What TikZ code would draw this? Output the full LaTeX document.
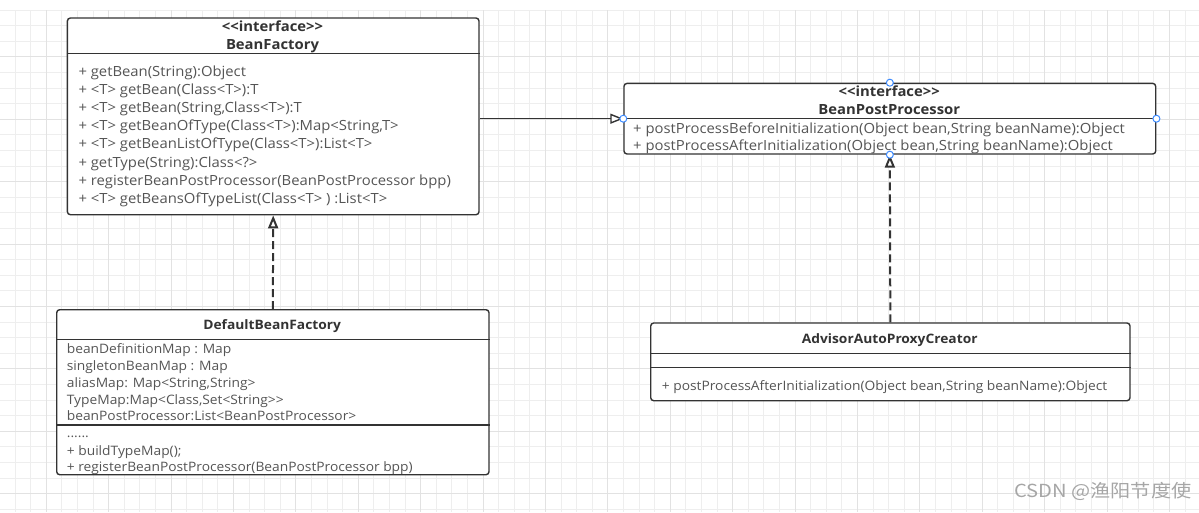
\documentclass[tikz,border=0pt]{standalone}
\usepackage{fontspec}
\setmainfont{Open Sans}[Ligatures=TeXOff, FakeStretch=1.06]
\newfontfamily\cjkfont{Noto Sans CJK SC}[FakeStretch=1.12]
\usetikzlibrary{arrows.meta}

\definecolor{boxline}{HTML}{333333}
\definecolor{titletext}{HTML}{333333}
\definecolor{membertext}{HTML}{555555}
\definecolor{gridminor}{HTML}{EEEEEE}
\definecolor{gridmajor}{HTML}{E2E2E2}
\definecolor{handleblue}{HTML}{3D8BFF}
\definecolor{marktext}{HTML}{A6A6A6}

\newcommand{\membfont}{\fontsize{14}{16}\selectfont}
\newcommand{\titlefont}{\fontsize{14}{16}\selectfont\bfseries}
\newcommand{\smallmembfont}{\fontsize{13}{15}\selectfont}
\newcommand{\smalltitlefont}{\fontsize{13}{15}\selectfont\bfseries}

\tikzset{
  umlbox/.style={draw=boxline, line width=1.4pt, rounded corners=3pt, fill=white,
    anchor=north west, inner sep=0pt},
  divider/.style={draw=boxline, line width=1.4pt},
  member/.style={anchor=base west, inner sep=0pt, text=membertext, font=\membfont},
  classname/.style={anchor=base, inner sep=0pt, text=titletext, font=\titlefont},
  smallmember/.style={member, font=\smallmembfont},
  smallclassname/.style={classname, font=\smalltitlefont},
  inherit/.style={draw=boxline, line width=1.4pt,
    -{Triangle[open, length=13pt, width=10pt, fill=white]}},
  realize/.style={inherit, line width=2pt, dash pattern=on 8pt off 4pt},
  handle/.style={circle, draw=handleblue, fill=white, line width=1pt,
    minimum size=7pt, inner sep=0pt},
}

\begin{document}
\begin{tikzpicture}[x=1pt, y=-1pt]
    \useasboundingbox (0,0) rectangle (1199,512);

    % background grid
    \foreach \k in {0,...,75} {
        \draw[gridminor, line width=1pt] ({15+15.6*\k},10) -- ({15+15.6*\k},512);
    }
    \foreach \k in {0,...,32} {
        \draw[gridminor, line width=1pt] (0,{10+15.6*\k}) -- (1199,{10+15.6*\k});
    }
    \foreach \k in {2,6,...,74} {
        \draw[gridmajor, line width=1pt] ({15+15.6*\k},10) -- ({15+15.6*\k},512);
    }
    \foreach \k in {3,7,...,31} {
        \draw[gridmajor, line width=1pt] (0,{10+15.6*\k}) -- (1199,{10+15.6*\k});
    }

    % BeanFactory
    \node[umlbox, minimum width=411.6pt, minimum height=196.7pt] (bf) at (66.7,17.3) {};
    \draw[divider] (bf.west |- 0,53.3) -- (bf.east |- 0,53.3);
    \node[classname] (bfstereo) at (272.5,31.7) {<<interface>>};
    \node[classname] (bfname) at (272.5,49.3) {BeanFactory};
    \node[member] (bfm1) at (78.3,76.0) {+ getBean(String):Object};
    \node[member] (bfm2) at (78.3,94.2) {+ <T> getBean(Class<T>):T};
    \node[member] (bfm3) at (78.3,112.4) {+ <T> getBean(String,Class<T>):T};
    \node[member] (bfm4) at (78.3,130.6) {+ <T> getBeanOfType(Class<T>):Map<String,T>};
    \node[member] (bfm5) at (78.3,148.8) {+ <T> getBeanListOfType(Class<T>):List<T>};
    \node[member] (bfm6) at (78.3,167.0) {+ getType(String):Class<?>};
    \node[member] (bfm7) at (78.3,185.2) {+ registerBeanPostProcessor(BeanPostProcessor bpp)};
    \node[member] (bfm8) at (78.3,203.4) {+ <T> getBeansOfTypeList(Class<T> ) :List<T>};

    % BeanPostProcessor
    \node[umlbox, minimum width=531.7pt, minimum height=70.6pt] (bpp) at (623.3,82.7) {};
    \draw[divider] (bpp.west |- 0,118.3) -- (bpp.east |- 0,118.3);
    \node[classname] (bppstereo) at (889.2,96.7) {<<interface>>};
    \node[classname] (bppname) at (889.2,114.3) {BeanPostProcessor};
    \node[member] (bppm1) at (633,133.3) {+ postProcessBeforeInitialization(Object bean,String beanName):Object};
    \node[member] (bppm2) at (633,150.7) {+ postProcessAfterInitialization(Object bean,String beanName):Object};

    % DefaultBeanFactory
    \node[umlbox, minimum width=432.3pt, minimum height=165pt] (dbf) at (56,309) {};
    \draw[divider] (dbf.west |- 0,339.3) -- (dbf.east |- 0,339.3);
    \draw[divider] (dbf.west |- 0,425) -- (dbf.east |- 0,425);
    \node[smallclassname] (dbfname) at (272.2,329.3) {DefaultBeanFactory};
    \node[smallmember] (dbfa1) at (66.7,353.3) {beanDefinitionMap : Map};
    \node[smallmember] (dbfa2) at (66.7,370.4) {singletonBeanMap : Map};
    \node[smallmember] (dbfa3) at (66.7,387.3) {aliasMap: Map<String,String>};
    \node[smallmember] (dbfa4) at (66.7,404.0) {TypeMap:Map<Class,Set<String>>};
    \node[smallmember] (dbfa5) at (66.7,420.7) {beanPostProcessor:List<BeanPostProcessor>};
    \node[smallmember] (dbfm1) at (66.7,437.3) {......};
    \node[smallmember] (dbfm2) at (66.7,455.7) {+ buildTypeMap();};
    \node[smallmember] (dbfm3) at (66.7,471.7) {+ registerBeanPostProcessor(BeanPostProcessor bpp)};

    % AdvisorAutoProxyCreator
    \node[umlbox, minimum width=479.3pt, minimum height=77.7pt] (aapc) at (650,322.3) {};
    \draw[divider] (aapc.west |- 0,353.3) -- (aapc.east |- 0,353.3);
    \draw[divider] (aapc.west |- 0,367.3) -- (aapc.east |- 0,367.3);
    \node[smallclassname] (aapcname) at (889.7,343.3) {AdvisorAutoProxyCreator};
    \node[smallmember] (aapcm1) at (661.7,390) {+ postProcessAfterInitialization(Object bean,String beanName):Object};

    % relations
    \draw[inherit] (bf.east |- bpp.west) -- (bpp.west);
    \draw[realize] (dbf.north) -- (bf.south);
    \draw[realize] (aapc.north) -- (bpp.south);

    % connection handles
    \node[handle] (hw) at (bpp.west) {};
    \node[handle] (hn) at (bpp.north) {};
    \node[handle] (he) at (bpp.east) {};
    \node[handle] (hs) at (bpp.south) {};

    % watermark
    \node[anchor=base west, inner sep=0pt, text=marktext, font=\cjkfont\fontsize{18}{20}\selectfont]
        (mark) at (1014,497.5) {CSDN @渔阳节度使};
\end{tikzpicture}
\end{document}
